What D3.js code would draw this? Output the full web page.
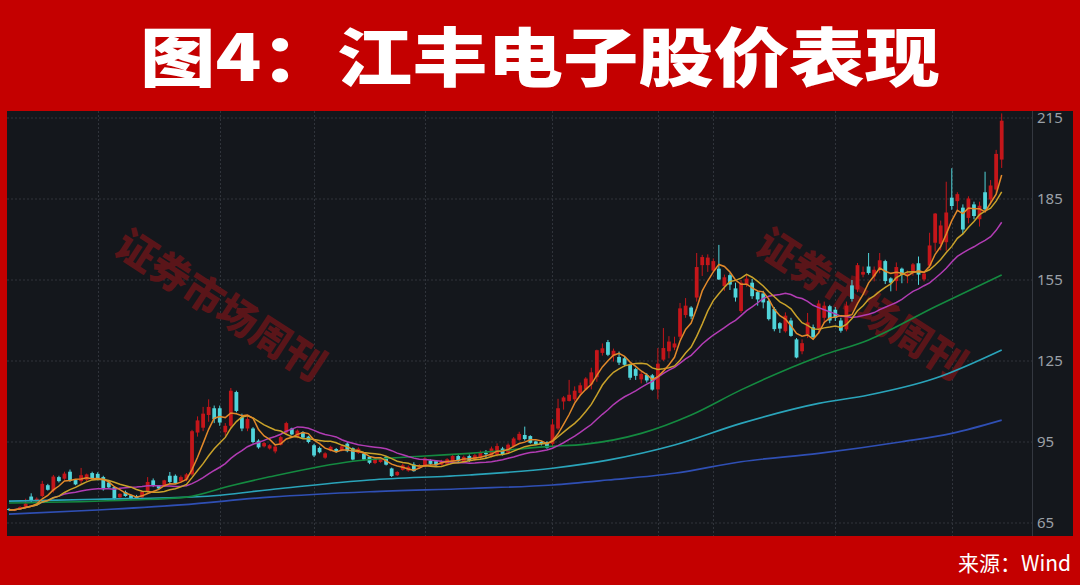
<!DOCTYPE html>
<html><head><meta charset="utf-8">
<script src="https://cdn.jsdelivr.net/npm/d3@7"></script>
<style>html,body{margin:0;padding:0;background:#c40000;} svg{display:block}</style>
</head><body><svg id="c" width="1080" height="585"></svg>
<script>
const title = "图4：江丰电子股价表现";
const source = "来源：Wind";
const watermark = "证券市场周刊";
const yTicks = [65, 95, 125, 155, 185, 215];
const monthLines = [16, 38, 55, 75, 98, 117, 127, 149, 170];

const opens = [70.2,69.6,70.2,70.8,74.8,72.9,75.0,79.0,77.0,82.0,81.4,84.0,80.9,80.5,81.0,83.5,83.2,82.0,80.0,78.3,
74.5,76.5,75.3,75.0,74.5,76.7,80.8,78.7,78.6,82.5,82.5,80.4,81.0,83.0,98.5,100.3,105.0,107.5,107.5,98.6,
101.0,113.5,104.2,100.0,100.0,95.5,93.4,92.6,91.5,94.0,98.5,100.0,96.7,98.7,97.0,93.8,92.8,89.2,91.8,92.4,
91.8,94.4,92.7,91.0,90.7,89.5,87.2,87.6,89.4,85.2,82.7,84.7,84.4,86.7,85.4,86.0,88.2,87.9,86.6,86.9,
87.8,89.8,87.6,89.8,88.4,89.1,91.0,89.7,90.4,92.6,91.0,93.5,95.8,97.6,97.2,95.2,95.0,95.0,94.3,100.0,
110.0,110.2,110.8,113.2,114.5,116.3,119.0,128.0,132.0,127.0,126.5,126.0,123.6,122.0,118.2,119.8,119.7,114.5,125.5,128.6,
130.0,134.0,142.0,144.8,148.5,160.5,160.5,158.5,159.2,152.7,156.8,151.9,143.5,153.2,154.0,150.5,150.0,147.3,144.3,139.0,
136.0,140.0,133.0,128.6,134.8,137.5,137.0,141.0,145.3,144.0,140.0,136.7,153.0,151.5,157.0,160.0,156.3,158.9,162.0,155.6,
154.6,159.2,156.6,157.6,161.2,155.2,160.3,168.8,168.4,169.0,185.5,184.2,181.8,178.0,183.0,177.5,187.5,184.8,188.5,199.6];
const closes = [69.8,70.0,70.9,72.2,73.2,74.0,79.5,77.3,82.2,80.5,83.3,80.6,79.3,82.7,83.0,81.3,81.2,77.5,78.2,74.0,
75.8,75.0,74.0,74.0,76.5,80.2,78.7,77.8,80.8,80.2,79.8,82.0,83.0,99.0,103.0,105.5,108.0,103.5,102.2,101.0,
114.0,106.5,100.0,103.5,95.0,93.0,94.6,93.8,93.3,96.8,102.0,97.8,99.2,96.6,95.0,90.0,91.2,90.8,93.2,91.4,
93.4,91.6,88.5,92.5,88.5,87.3,88.9,88.8,86.6,82.4,83.9,86.4,85.8,84.2,86.4,88.9,86.9,86.4,87.9,88.6,
89.8,87.9,89.5,88.0,90.1,91.3,90.5,92.6,93.5,90.4,94.0,96.3,98.0,96.1,94.7,94.1,94.2,92.9,101.5,107.5,
111.5,112.5,114.0,116.0,118.5,120.8,129.0,129.7,127.3,128.8,124.4,123.6,118.8,119.5,120.2,117.8,114.4,124.0,129.8,132.2,
131.5,144.5,145.5,141.5,159.8,163.5,163.3,162.0,155.2,156.0,153.3,148.5,154.0,155.5,149.0,147.8,146.7,140.5,136.8,137.0,
141.8,134.3,126.3,131.6,139.3,133.8,146.3,145.5,140.0,141.0,136.2,145.5,148.0,160.5,158.0,157.6,158.8,162.3,154.6,154.0,
159.8,156.9,157.4,160.8,157.0,157.4,167.8,179.6,175.2,180.0,182.4,186.8,173.7,185.2,178.7,182.5,181.2,190.0,201.7,214.0];
const highs = [70.5,70.3,71.2,74.0,76.0,74.5,80.6,79.5,82.8,82.5,84.0,84.8,81.0,85.4,83.3,84.0,83.8,82.5,80.5,78.6,
76.0,77.0,75.5,75.4,77.0,82.0,81.5,79.0,81.0,83.9,83.0,82.6,83.5,99.5,104.5,108.0,110.8,108.5,108.5,102.0,
115.0,114.0,105.5,104.5,100.5,96.0,95.0,94.2,93.8,97.3,102.5,100.3,99.6,99.0,97.3,94.3,93.3,91.2,93.6,92.8,
93.8,95.0,93.0,93.0,91.0,89.8,89.3,89.1,89.8,85.5,84.2,87.0,86.3,87.5,86.8,89.4,88.6,88.3,88.4,89.0,
90.5,90.3,90.0,90.4,90.6,91.8,92.0,93.3,94.5,93.2,94.5,96.8,98.8,100.7,97.5,95.5,95.4,95.3,103.5,111.0,
112.0,118.0,115.6,117.0,119.0,122.5,129.2,131.5,132.8,129.6,128.5,126.5,124.0,122.5,121.0,120.5,120.2,129.8,137.2,134.2,
134.0,146.5,148.3,145.3,165.0,164.3,164.5,163.0,168.0,157.0,157.5,154.0,155.0,157.0,155.4,151.0,151.0,148.0,145.0,139.4,
143.0,141.0,133.5,133.0,142.8,138.5,147.5,147.0,145.8,145.0,141.0,147.0,155.0,161.3,160.0,165.0,160.0,165.0,162.5,156.0,
161.5,159.6,158.5,161.3,163.7,158.0,172.5,179.8,177.0,191.4,196.4,187.5,183.0,186.0,184.0,184.0,195.1,192.0,203.2,216.7];
const lows = [69.5,69.4,70.0,70.5,72.5,72.6,74.5,77.0,76.3,80.0,81.0,80.2,79.0,79.5,80.5,81.0,80.8,77.0,77.8,73.3,
74.2,74.7,73.5,73.8,74.2,76.2,78.3,77.3,78.4,79.5,79.4,80.0,80.5,82.5,97.0,99.0,102.5,102.0,101.0,97.3,
100.0,106.0,99.0,99.0,94.5,92.5,93.0,92.2,90.8,93.7,98.0,97.5,96.4,96.3,94.5,89.4,90.8,88.8,91.5,91.0,
91.5,91.2,88.2,90.6,88.0,86.8,86.8,87.3,86.3,82.0,82.4,84.4,84.0,84.0,85.0,85.7,86.6,86.0,86.3,86.5,
87.5,87.6,87.3,87.6,88.0,88.7,89.0,89.3,89.6,90.0,90.6,93.0,95.5,95.5,94.4,93.8,93.7,92.5,93.5,99.5,
107.0,110.0,110.0,112.0,114.0,114.5,117.3,127.0,126.8,124.8,123.5,123.0,118.0,118.0,116.7,117.0,114.0,110.8,125.0,126.0,
129.0,133.0,141.0,140.5,147.0,156.5,158.0,158.0,155.0,151.0,151.3,147.0,142.8,152.5,148.0,145.5,144.5,140.0,136.0,135.4,
135.5,134.0,126.0,127.5,133.5,133.0,135.0,139.0,139.0,139.8,135.5,136.0,147.0,150.5,156.0,157.0,154.5,157.5,153.5,150.8,
151.0,153.8,153.8,156.6,153.2,154.5,159.5,165.5,166.0,165.8,181.0,181.0,172.0,176.0,177.5,174.8,180.5,183.0,187.0,196.5];

// long moving averages (candle index, price)
const ma60Idx = [0, 22, 32, 40, 47, 62, 75, 83, 97, 104, 114, 123, 132, 146, 155, 167, 179];
const ma60Val = [72.4, 73.5, 74.6, 78.8, 82.1, 87.9, 89.8, 90.8, 93.3, 94.2, 98.2, 105.0, 114.3, 126.6, 132.8, 145.1, 156.9];
const ma120Idx = [0, 16, 34, 49, 65, 83, 98, 108, 120, 132, 146, 155, 167, 179];
const ma120Val = [73.1, 73.8, 74.7, 77.8, 80.9, 82.8, 85.3, 88.3, 93.9, 101.9, 109.3, 112.4, 118.6, 129.1];
const ma250Idx = [0, 16, 31, 47, 65, 83, 98, 108, 120, 132, 146, 161, 170, 179];
const ma250Val = [68.3, 69.8, 71.7, 74.6, 76.6, 77.8, 79.1, 80.9, 83.4, 87.7, 90.8, 95.1, 98.2, 103.1];

const W = 1080, H = 585;
const svg = d3.select("#c");
const plot = {x0: 7, x1: 1032, y0: 111, y1: 536, right: 1073};

svg.append("rect").attr("width", W).attr("height", H).attr("fill", "#c40000");
svg.append("rect").attr("x", plot.x0).attr("y", plot.y0)
  .attr("width", plot.right - plot.x0).attr("height", plot.y1 - plot.y0).attr("fill", "#14171c");

svg.append("text").attr("x", 540).attr("y", 81).attr("text-anchor", "middle")
  .attr("font-family", "'Noto Sans CJK SC', sans-serif").attr("font-weight", 900)
  .attr("font-size", 64).attr("fill", "#ffffff")
  .attr("textLength", 800).attr("lengthAdjust", "spacingAndGlyphs").text(title);

svg.append("text").attr("x", 1071).attr("y", 571).attr("text-anchor", "end")
  .attr("font-family", "'Noto Sans CJK SC', sans-serif").attr("font-weight", 400)
  .attr("font-size", 21).attr("fill", "#ffffff").text(source);

const N = closes.length;
const x = d3.scaleLinear().domain([0, N - 1]).range([9, 1001.7]);
const y = d3.scaleLinear().domain([65, 215]).range([523, 118]);

// grid
const grid = svg.append("g");
grid.selectAll("line.h").data(yTicks).join("line")
  .attr("x1", plot.x0).attr("x2", plot.x1)
  .attr("y1", d => y(d)).attr("y2", d => y(d))
  .attr("stroke", "#30343b").attr("stroke-width", 1).attr("stroke-dasharray", "2,2");
grid.selectAll("line.v").data(monthLines).join("line")
  .attr("x1", d => Math.round(x(d)) + 0.5).attr("x2", d => Math.round(x(d)) + 0.5)
  .attr("y1", plot.y0).attr("y2", plot.y1)
  .attr("stroke", "#30343b").attr("stroke-width", 1).attr("stroke-dasharray", "2,2");
svg.append("line").attr("x1", plot.x1 + 0.5).attr("x2", plot.x1 + 0.5)
  .attr("y1", plot.y0).attr("y2", plot.y1).attr("stroke", "#343840");

// y axis labels
const axis = d3.axisRight(y).tickValues(yTicks).tickSize(0).tickPadding(5);
const ga = svg.append("g").attr("transform", `translate(${plot.x1},0)`).call(axis);
ga.select(".domain").remove();
ga.selectAll("text").attr("fill", "#9ba0a7").attr("font-size", 15)
  .attr("font-family", "'Noto Sans', 'DejaVu Sans', sans-serif");

// clip
svg.append("clipPath").attr("id", "clip").append("rect")
  .attr("x", plot.x0).attr("y", plot.y0).attr("width", plot.x1 - plot.x0).attr("height", plot.y1 - plot.y0);
const g = svg.append("g").attr("clip-path", "url(#clip)");

// watermarks
[[222, 303], [863, 302]].forEach(([cx, cy]) => {
  g.append("text").attr("transform", `translate(${cx},${cy}) rotate(33)`)
    .attr("text-anchor", "middle").attr("dominant-baseline", "central")
    .attr("font-family", "'Noto Sans CJK SC', sans-serif").attr("font-weight", 900)
    .attr("font-size", 40).attr("fill", "#5a1519").text(watermark);
});

// candles
const UP = "#c4161a", DOWN = "#50d4da";
const bw = 3.8;
const idx = d3.range(N);
const cg = g.append("g");
cg.selectAll("line.w").data(idx).join("line")
  .attr("x1", i => x(i)).attr("x2", i => x(i))
  .attr("y1", i => y(highs[i])).attr("y2", i => y(lows[i]))
  .attr("stroke", i => closes[i] >= opens[i] ? UP : DOWN).attr("stroke-width", 1);
cg.selectAll("rect.b").data(idx).join("rect")
  .attr("x", i => x(i) - bw / 2).attr("width", bw)
  .attr("y", i => y(Math.max(opens[i], closes[i])))
  .attr("height", i => Math.max(1, Math.abs(y(opens[i]) - y(closes[i]))))
  .attr("fill", i => closes[i] >= opens[i] ? UP : DOWN);

// moving averages
function movingAvg(n) {
  return idx.map(i => ({i, v: d3.mean(closes.slice(Math.max(0, i - n + 1), i + 1))}));
}
const lineGen = d3.line().x(d => x(d.i)).y(d => y(d.v));
const smooth = d3.line().x(d => x(d.i)).y(d => y(d.v)).curve(d3.curveMonotoneX);
const longSeries = [
  {idx: ma250Idx, val: ma250Val, color: "#2f4fb4"},
  {idx: ma120Idx, val: ma120Val, color: "#2aa4ba"},
  {idx: ma60Idx, val: ma60Val, color: "#148a40"}
];
longSeries.forEach(s => {
  g.append("path").datum(s.idx.map((d, k) => ({i: d, v: s.val[k]})))
    .attr("d", smooth).attr("fill", "none").attr("stroke", s.color).attr("stroke-width", 1.6);
});
[{n: 20, color: "#b23cb4"}, {n: 10, color: "#c9a22a"}, {n: 5, color: "#e2892a"}].forEach(s => {
  g.append("path").datum(movingAvg(s.n)).attr("d", lineGen)
    .attr("fill", "none").attr("stroke", s.color).attr("stroke-width", 1.5);
});
</script>
</body></html>
